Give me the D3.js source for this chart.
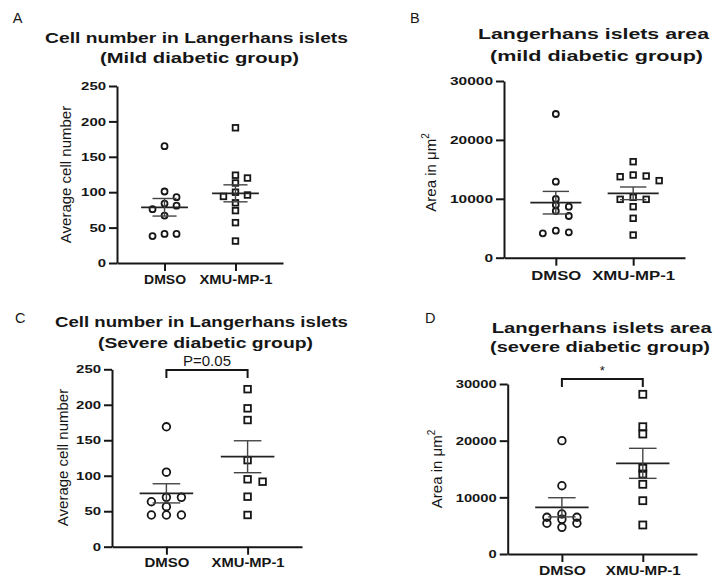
<!DOCTYPE html>
<html><head><meta charset="utf-8">
<script src="https://cdn.jsdelivr.net/npm/d3@7"></script>
<style>
body{margin:0;background:#fff}
svg{display:block}
text{font-family:"Liberation Sans",Arial,Helvetica,sans-serif;fill:#161616}
</style>
</head><body>
<svg id="chart" width="715" height="577"></svg>
<script>
// ---------- data ----------
const categories = ["DMSO", "XMU-MP-1"];
const cellTicks = [0, 50, 100, 150, 200, 250];
const areaTicks = [0, 10000, 20000, 30000];

// A: cell number, mild
const mildCellDMSO = [165, 101, 93, 84, 81, 76, 67, 41, 41, 38];
const mildCellXMU  = [191, 124, 120, 113, 100, 96, 94, 85, 74, 57, 31];
const mildCellMean = [78.7, 98.4];
const mildCellSEM  = [12.4, 12.0];

// B: area, mild
const mildAreaDMSO = [24400, 12900, 9970, 8950, 8660, 7930, 7080, 4590, 4310, 4140];
const mildAreaXMU  = [16300, 14040, 13870, 13750, 13080, 10250, 9910, 9910, 8660, 6690, 3850];
const mildAreaMean = [9340, 10930];
const mildAreaSEM  = [1915, 1075];

// C: cell number, severe
const severeCellDMSO = [169, 105, 69.6, 69.6, 63.4, 56.4, 44.7, 44.7, 44.7];
const severeCellXMU  = [222, 195, 178.5, 122, 95, 91.6, 70.5, 44.7];
const severeCellMean = [75.2, 126.8];
const severeCellSEM  = [13.5, 22.5];

// D: area, severe
const severeAreaDMSO = [20000, 12050, 7060, 6480, 6480, 6120, 5420, 5420, 4710];
const severeAreaXMU  = [28180, 22460, 21180, 15120, 14120, 12300, 9410, 5120];
const severeAreaMean = [8240, 16000];
const severeAreaSEM  = [1690, 2650];

const panelLetters = ["A", "B", "C", "D"];
const panelTitles = [
  ["Cell number in Langerhans islets", "(Mild diabetic group)"],
  ["Langerhans islets area", "(mild diabetic group)"],
  ["Cell number in Langerhans islets", "(Severe diabetic group)"],
  ["Langerhans islets area", "(severe diabetic group)"]
];
const significanceLabels = [null, null, "P=0.05", "*"];
const significanceLevel = [null, null, 249, 30900];

// ---------- layout (positions / sizes only) ----------
const layout = [
  {x0:117, x1:283, yTop:86, yBot:263, letter:[12.7,23.3], t1:[196.5,42.7,303], t2:[199.5,63,199],
   catBase:21, catW:[42,73], catFont:12, tickCharW:8.3, ylab:[70.7,174.5], r:3, sq:5.6, step:12, minD:6},
  {x0:504, x1:685, yTop:81, yBot:257.7, letter:[410,23.3], t1:[593.5,39.3,231], t2:[596.5,61,213],
   catBase:22.3, catW:[50,83], catFont:12.5, tickCharW:8.6, ylab:[436,172.5], r:3, sq:5.6, step:13, minD:6},
  {x0:112, x1:302, yTop:369.3, yBot:546.7, letter:[15,323.3], t1:[201.5,326.7,293], t2:[205.5,348,215],
   catBase:20, catW:[45,73], catFont:12, tickCharW:8.3, ylab:[68,457.5], r:3.8, sq:6.6, step:15, minD:7},
  {x0:507.7, x1:697, yTop:384, yBot:554, letter:[425,322.7], t1:[601.7,333.3,220], t2:[600,352,220],
   catBase:21, catW:[47,75], catFont:12, tickCharW:8.2, ylab:[442,469], r:3.8, sq:7, step:15, minD:5}
];

const panelData = [
  {groups:[mildCellDMSO, mildCellXMU], mean:mildCellMean, sem:mildCellSEM, ticks:cellTicks, ylabel:"cell"},
  {groups:[mildAreaDMSO, mildAreaXMU], mean:mildAreaMean, sem:mildAreaSEM, ticks:areaTicks, ylabel:"area"},
  {groups:[severeCellDMSO, severeCellXMU], mean:severeCellMean, sem:severeCellSEM, ticks:cellTicks, ylabel:"cell"},
  {groups:[severeAreaDMSO, severeAreaXMU], mean:severeAreaMean, sem:severeAreaSEM, ticks:areaTicks, ylabel:"area"}
];

const ink = "#161616";
const svg = d3.select("#chart");

function swarm(values, y, cx, step, minD){
  const placed = [];
  const sorted = values.slice().sort((a,b)=>b-a);
  return sorted.map(v=>{
    const py = y(v);
    for (const k of [0,1,-1,2,-2,3,-3]){
      const px = cx + k*step;
      if (placed.every(p=>Math.hypot(p[0]-px, p[1]-py) >= minD)){
        placed.push([px,py]); return [px,py];
      }
    }
    placed.push([cx,py]); return [cx,py];
  });
}

panelData.forEach((pd, i)=>{
  const L = layout[i];
  const g = svg.append("g");
  const y = d3.scaleLinear().domain([pd.ticks[0], pd.ticks[pd.ticks.length-1]]).range([L.yBot, L.yTop]);
  const x = d3.scalePoint().domain(categories).range([L.x0, L.x1]).padding(0.67);

  // panel letter
  g.append("text").attr("x", L.letter[0]).attr("y", L.letter[1])
    .attr("font-size", 14.5).text(panelLetters[i]);

  // titles
  [L.t1, L.t2].forEach((t, j)=>{
    g.append("text").attr("x", t[0]).attr("y", t[1]).attr("text-anchor","middle")
      .attr("font-size", 15.5).attr("font-weight","bold")
      .attr("textLength", t[2]).attr("lengthAdjust","spacingAndGlyphs")
      .text(panelTitles[i][j]);
  });

  // y axis
  const ya = g.append("g").attr("transform", `translate(${L.x0},0)`)
    .call(d3.axisLeft(y).tickValues(pd.ticks).tickSize(8).tickSizeOuter(0).tickPadding(3)
      .tickFormat(d3.format("d")));
  ya.select(".domain").attr("stroke", ink).attr("stroke-width", 2);
  ya.selectAll(".tick line").attr("stroke", ink).attr("stroke-width", 2);
  ya.selectAll(".tick text").attr("fill", ink).attr("font-size", 11.5).attr("font-weight","bold")
    .attr("font-family", '"Liberation Sans",Arial,sans-serif')
    .each(function(){
      const s = d3.select(this);
      s.attr("textLength", s.text().length * L.tickCharW).attr("lengthAdjust","spacingAndGlyphs");
    });

  // x axis
  const xa = g.append("g").attr("transform", `translate(0,${L.yBot})`)
    .call(d3.axisBottom(x).tickSize(8).tickSizeOuter(0));
  xa.select(".domain").attr("stroke", ink).attr("stroke-width", 2);
  xa.selectAll(".tick line").attr("stroke", ink).attr("stroke-width", 2);
  xa.selectAll(".tick text").attr("fill", ink).attr("font-size", L.catFont).attr("font-weight","bold")
    .attr("font-family", '"Liberation Sans",Arial,sans-serif')
    .attr("y", L.catBase).attr("dy", 0)
    .each(function(d){
      d3.select(this).attr("textLength", L.catW[categories.indexOf(d)]).attr("lengthAdjust","spacingAndGlyphs");
    });

  // y label
  const yl = g.append("text")
    .attr("transform", `translate(${L.ylab[0]},${L.ylab[1]}) rotate(-90)`)
    .attr("text-anchor","middle").attr("font-size", 15);
  if (pd.ylabel === "cell") {
    yl.text("Average cell number");
  } else {
    yl.append("tspan").text("Area in \u03BCm");
    yl.append("tspan").attr("font-size", 10).attr("dy", -7).text("2");
  }

  // points
  pd.groups.forEach((vals, k)=>{
    const cx = x(categories[k]);
    const pts = swarm(vals, y, cx, L.step, L.minD);
    if (k === 0) {
      g.selectAll(null).data(pts).enter().append("circle")
        .attr("cx", d=>d[0]).attr("cy", d=>d[1]).attr("r", L.r)
        .attr("fill","none").attr("stroke", ink).attr("stroke-width", 1.8);
    } else {
      g.selectAll(null).data(pts).enter().append("rect")
        .attr("x", d=>d[0]-L.sq/2).attr("y", d=>d[1]-L.sq/2)
        .attr("width", L.sq).attr("height", L.sq)
        .attr("fill","none").attr("stroke", ink).attr("stroke-width", 1.8);
    }
    // mean & SEM
    const m = pd.mean[k], s = pd.sem[k];
    const hw = x.step()*0.33, sw = x.step()*0.17;
    g.append("line").attr("x1", cx-hw).attr("x2", cx+hw).attr("y1", y(m)).attr("y2", y(m))
      .attr("stroke", "#222").attr("stroke-width", 1.8);
    g.append("line").attr("x1", cx).attr("x2", cx).attr("y1", y(m+s)).attr("y2", y(m-s))
      .attr("stroke", "#444").attr("stroke-width", 1.4);
    [m+s, m-s].forEach(v=>{
      g.append("line").attr("x1", cx-sw).attr("x2", cx+sw).attr("y1", y(v)).attr("y2", y(v))
        .attr("stroke", "#444").attr("stroke-width", 1.4);
    });
  });

  // significance bracket
  if (significanceLabels[i]) {
    const by = y(significanceLevel[i]);
    const xa0 = x(categories[0]), xa1 = x(categories[1]);
    g.append("path").attr("d", `M${xa0},${by+8}V${by}H${xa1}V${by+8}`)
      .attr("fill","none").attr("stroke", ink).attr("stroke-width", 2);
    const star = significanceLabels[i] === "*";
    g.append("text").attr("x", (xa0+xa1)/2).attr("y", star ? by-3.5 : by-4)
      .attr("text-anchor","middle").attr("font-size", star ? 13 : 15)
      .text(significanceLabels[i]);
  }
});
</script>
</body></html>
